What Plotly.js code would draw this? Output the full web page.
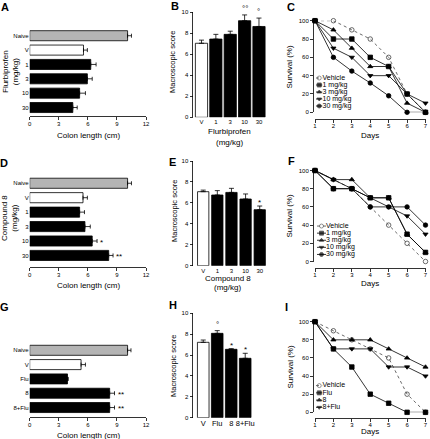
<!DOCTYPE html>
<html><head><meta charset="utf-8">
<script src="https://cdn.plot.ly/plotly-3.0.1.min.js"></script>
<style>html,body{margin:0;padding:0;background:#fff}#chart{width:430px;height:439px}</style>
</head><body><div id="chart"></div>
<script>
// ---------- DATA ----------
const colonCatsA = ["Naive","V","1","3","10","30"];
const colonA = [10.1, 5.55, 6.3, 5.95, 5.15, 4.45];
const colonErrA = [0.4, 0.4, 0.55, 0.5, 0.6, 0.45];
const colonSigA = ["","","","","",""];

const colonCatsD = ["Naive","V","1","3","10","30"];
const colonD = [10.1, 5.5, 5.15, 5.7, 6.45, 8.15];
const colonErrD = [0.4, 0.45, 0.5, 0.55, 0.5, 0.45];
const colonSigD = ["","","","","*","**"];

const colonCatsG = ["Naive","V","Flu","8","8+Flu"];
const colonG = [10.1, 5.3, 3.9, 8.25, 8.25];
const colonErrG = [0.35, 0.45, 0.08, 0.5, 0.5];
const colonSigG = ["","","","**","**"];

const scoreCatsB = ["V","1","3","10","30"];
const scoreB = [7.05, 7.45, 7.9, 9.2, 8.65];
const scoreErrB = [0.3, 0.45, 0.3, 0.55, 0.8];
const scoreSigB = ["","","","°°","°"];

const scoreCatsE = ["V","1","3","10","30"];
const scoreE = [7.07, 6.75, 7.0, 6.37, 5.35];
const scoreErrE = [0.15, 0.42, 0.39, 0.48, 0.35];
const scoreSigE = ["","","","","*"];

const scoreCatsH = ["V","Flu","8","8+Flu"];
const scoreH = [7.22, 8.08, 6.55, 5.69];
const scoreErrH = [0.22, 0.26, 0.06, 0.48];
const scoreSigH = ["","°","*","*"];

const days = [1,2,3,4,5,6,7];
const doseNames = ["Vehicle","1 mg/kg","3 mg/kg","10 mg/kg","30 mg/kg"];
const survC_vehicle = [100,100,90,80,60,20,0];
const survC_1 = [100,80,80,60,50,20,0];
const survC_3 = [100,90,70,50,50,10,0];
const survC_10 = [100,70,60,40,40,20,10];
const survC_30 = [100,60,45,32,18,0,0];

const survF_vehicle = [100,90,80,60,40,20,0];
const survF_1 = [100,80,80,70,70,30,10];
const survF_3 = [100,90,90,70,70,30,10];
const survF_10 = [100,90,80,70,60,50,30];
const survF_30 = [100,80,80,60,60,60,40];

const comboNames = ["Vehicle","Flu","8","8+Flu"];
const survI_vehicle = [100,90,80,70,60,20,0];
const survI_flu = [100,70,50,20,10,0,0];
const survI_8 = [100,80,80,80,70,60,50];
const survI_8flu = [100,70,70,70,50,50,40];

// ---------- LAYOUT HELPERS ----------
const W = 430, H = 439;
const FONT = "Liberation Sans, Arial, sans-serif";
const dx = (a,b) => [a/W, b/W];
const dy = (top,bot) => [1-bot/H, 1-top/H];
const base = {showgrid:false, zeroline:false, linecolor:'#000', linewidth:0.8,
  tickcolor:'#000', tickwidth:0.8, ticklen:3, tickfont:{size:6, family:FONT, color:'#000'}, fixedrange:true};
function ax(o){ return Object.assign({}, base, o); }

const traces = [];
const annotations = [];
function ann(text, xpx, ypx, size, extra){
  annotations.push(Object.assign({text, x:xpx/W, y:1-ypx/H, xref:'paper', yref:'paper', showarrow:false,
    font:{size, family:FONT, color:'#000'}, xanchor:'center', yanchor:'middle'}, extra||{}));
}
function barColor(c){ return c==="Naive" ? '#b4b4b4' : (c==="V" ? '#ffffff' : '#000000'); }

function hbar(cats, vals, errs, sig, n){
  traces.push({type:'bar', orientation:'h', y:cats, x:vals, xaxis:'x'+n, yaxis:'y'+n, width:0.7,
    marker:{color:cats.map(barColor), line:{color:'#000', width:0.8}},
    error_x:{type:'data', array:errs, arrayminus:errs.map(()=>0), symmetric:false, color:'#000', thickness:0.8, width:2},
    hoverinfo:'skip', showlegend:false});
  // category index used as position (numeric-looking names would be read as numbers)
  sig.forEach((s,i)=>{ if(s) annotations.push({text:s, xref:'x'+n, yref:'y'+n, x:vals[i]+errs[i], y:i,
    xanchor:'left', yanchor:'middle', xshift:1, yshift:-1, showarrow:false, font:{size:8, family:FONT, color:'#000'}}); });
}
function vbar(cats, vals, errs, sig, n, w){
  traces.push({type:'bar', x:cats, y:vals, xaxis:'x'+n, yaxis:'y'+n, width:w,
    marker:{color:cats.map(barColor), line:{color:'#000', width:0.8}},
    error_y:{type:'data', array:errs, arrayminus:errs.map(()=>0), symmetric:false, color:'#000', thickness:0.8, width:2.5},
    hoverinfo:'skip', showlegend:false});
  sig.forEach((s,i)=>{ if(s) annotations.push({text:s, xref:'x'+n, yref:'y'+n, x:i, y:vals[i]+errs[i],
    xanchor:'center', yanchor:'bottom', yshift:(s.indexOf('*')>=0 ? -3 : 0), showarrow:false,
    font:{size:8, family:FONT, color:'#000'}}); });
}
const styles = [
  {symbol:'circle-open', dash:'dot', color:'#444'},
  {symbol:'square', dash:'solid', color:'#000'},
  {symbol:'triangle-up', dash:'solid', color:'#000'},
  {symbol:'triangle-down', dash:'solid', color:'#000'},
  {symbol:'circle', dash:'solid', color:'#000'}
];
function surv(series, names, n, ln, styleIdx){
  series.forEach((s,k)=>{
    const st = styles[styleIdx[k]];
    traces.push({type:'scatter', mode:'lines+markers', x:days, y:s, xaxis:'x'+n, yaxis:'y'+n, cliponaxis:false,
      line:{color:st.color, width:0.8, dash:st.dash},
      marker:{symbol:st.symbol, size:4.5, color:st.color, line:{color:st.color, width:0.8}},
      hoverinfo:'skip', showlegend:false});
    // legend sample row
    traces.push({type:'scatter', mode:'lines+markers+text', x:[0,0.5,1], y:[k,k,k], xaxis:'x'+ln, yaxis:'y'+ln,
      cliponaxis:false, text:['','',names[k]], textposition:'middle right',
      textfont:{size:7, family:FONT, color:'#000'},
      line:{color:st.color, width:0.8, dash:st.dash},
      marker:{symbol:st.symbol, size:[0,4,0], color:st.color, line:{color:st.color, width:0.8}},
      hoverinfo:'skip', showlegend:false});
  });
}

// ---------- TRACES ----------
hbar(colonCatsA, colonA, colonErrA, colonSigA, 1);
vbar(scoreCatsB, scoreB, scoreErrB, scoreSigB, 2, 0.85);
surv([survC_vehicle, survC_1, survC_3, survC_10, survC_30], doseNames, 3, 10, [0,1,2,3,4]);
hbar(colonCatsD, colonD, colonErrD, colonSigD, 4);
vbar(scoreCatsE, scoreE, scoreErrE, scoreSigE, 5, 0.8);
surv([survF_vehicle, survF_1, survF_3, survF_10, survF_30], doseNames, 6, 11, [0,1,2,3,4]);
hbar(colonCatsG, colonG, colonErrG, colonSigG, 7);
vbar(scoreCatsH, scoreH, scoreErrH, scoreSigH, 8, 0.83);
surv([survI_vehicle, survI_flu, survI_8, survI_8flu], comboNames, 9, 12, [0,1,2,3]);

// ---------- AXES ----------
const layout = {width:W, height:H, autosize:false, margin:{l:0,r:0,t:0,b:0},
  paper_bgcolor:'#fff', plot_bgcolor:'rgba(0,0,0,0)', showlegend:false, font:{family:FONT, color:'#000'}};

const colonX = (n) => ax({domain:dx(29.7,146), range:[0,12], tickvals:[0,3,6,9,12], ticks:'outside',
  showline:true, anchor:'y'+n, ticklabelstandoff:-1});
const colonY = (top, bot, rng) => ax({domain:dy(top,bot), type:'category', range:rng, showline:false, ticks:'',
  tickfont:{size:6, family:FONT, color:'#000'}});
layout.xaxis = colonX(1); layout.yaxis = Object.assign(colonY(27.1,116,[5.59,-0.6]), {anchor:'x'});
layout.xaxis4 = colonX(4); layout.yaxis4 = Object.assign(colonY(174.6,266.7,[5.78,-0.6]), {anchor:'x4'});
layout.xaxis7 = colonX(7); layout.yaxis7 = Object.assign(colonY(341.7,416.7,[4.64,-0.6]), {anchor:'x7'});

const scoreY = (top,bot,n) => ax({domain:dy(top,bot), range:[0,10], dtick:2, ticks:'outside', showline:true, anchor:'x'+n});
const scoreX = (l,r,rng,n,fs) => ax({domain:dx(l,r), type:'category', range:rng, ticks:'', showline:false, anchor:'y'+n,
  tickangle:0, tickfont:{size:fs, family:FONT, color:'#000'}});
layout.xaxis2 = scoreX(193.3,267.6,[-0.57,4.6],2,6); layout.yaxis2 = scoreY(12.3,117.3,2);
layout.xaxis5 = scoreX(193.3,268.2,[-0.7,4.6],5,6); layout.yaxis5 = scoreY(161,265.7,5);
layout.xaxis8 = scoreX(193.3,253.6,[-0.71,3.6],8,7.5); layout.yaxis8 = scoreY(313.3,417.7,8);

const survX = (xAxisPx) => ax({domain:dx(315,425.5), range:[1,7], dtick:1, ticks:'outside', showline:true,
  anchor:'free', position:1-xAxisPx/H, ticklabelstandoff:-2});
const survY = (top,bot) => ax({domain:dy(top,bot), range:[0,100], dtick:20, ticks:'outside', showline:true,
  anchor:'free', position:313/W});
layout.xaxis3 = survX(119.3); layout.yaxis3 = survY(20.7,112.3);
layout.xaxis6 = survX(267.7); layout.yaxis6 = survY(170.5,261.5);
layout.xaxis9 = survX(417.7); layout.yaxis9 = survY(321.7,412.3);

const legX = (l,r,n) => ({domain:dx(l,r), range:[0,1], visible:false, fixedrange:true, anchor:'y'+n});
const legY = (top,bot,rows,n) => ({domain:dy(top,bot), range:[rows-0.5,-0.5], visible:false, fixedrange:true, anchor:'x'+n});
layout.xaxis10 = legX(316,322.5,10); layout.yaxis10 = legY(74.5,109.5,5,10);
layout.xaxis11 = legX(317,326,11); layout.yaxis11 = legY(222.5,258,5,11);
layout.xaxis12 = legX(316,322.5,12); layout.yaxis12 = legY(382,411,4,12);

// ---------- TITLES / LABELS ----------
[["A",5,7],["B",175,6],["C",291,7],["D",4,163],["E",172,162],["F",291,161],["G",4,307],["H",173,305],["I",286,307]]
  .forEach(p=>ann('<b>'+p[0]+'</b>', p[1], p[2], 11));
ann('Colon length (cm)', 88, 135, 8);
ann('Colon length (cm)', 88, 285, 8);
ann('Colon length (cm)', 88, 435, 8);
ann('Flurbiprofen<br>(mg/kg)', 10, 72, 8, {textangle:-90});
ann('Compound 8<br>(mg/kg)', 10, 218, 8, {textangle:-90});
ann('Macroscopic score', 173, 62, 7.5, {textangle:-90});
ann('Macroscopic score', 174, 211, 7.5, {textangle:-90});
ann('Macroscopic score', 173, 366, 7.5, {textangle:-90});
ann('Flurbiprofen', 230, 132, 8);
ann('(mg/kg)', 230, 142.5, 8);
ann('Compound 8', 228, 278, 8);
ann('(mg/kg)', 228, 287, 8);
ann('Survival (%)', 289.5, 67, 8, {textangle:-90});
ann('Survival (%)', 289.5, 216, 8, {textangle:-90});
ann('Survival (%)', 289.5, 367, 8, {textangle:-90});
ann('Days', 370, 135, 8);
ann('Days', 370, 283.5, 8);
ann('Days', 370, 431, 8);

layout.annotations = annotations;
Plotly.newPlot('chart', traces, layout, {staticPlot:true, displayModeBar:false});
</script></body></html>
